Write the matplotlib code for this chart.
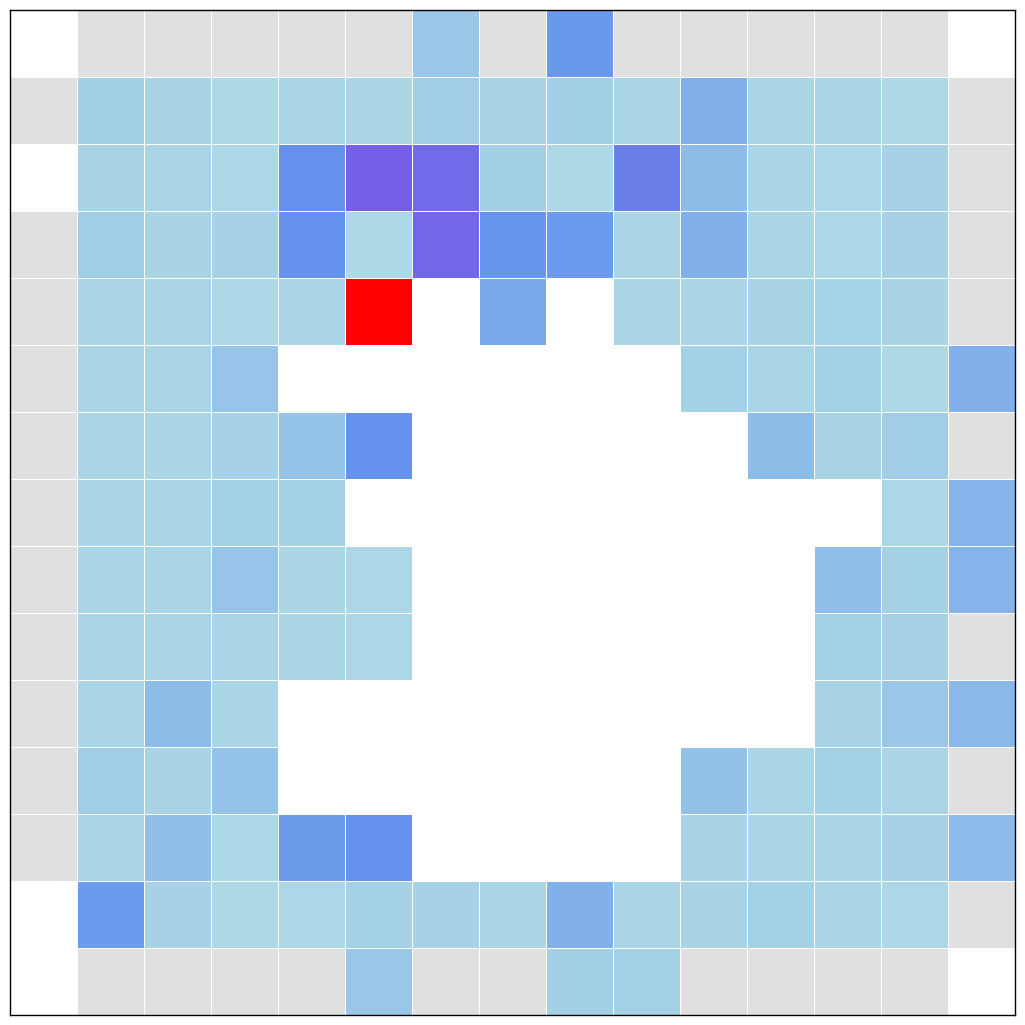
import numpy as np
import matplotlib
matplotlib.use("Agg")
import matplotlib.pyplot as plt
from matplotlib.colors import LinearSegmentedColormap

W = np.nan   # sem dado (branco)
G = -1.0     # borda (cinza)
R = 2.0      # valor maximo destacado (vermelho)

linhas = [
    [W, G, G, G, G, G, .16, G, .56, G, G, G, G, G, W],
    [G, .08, .04, .0, .03, .02, .10, .04, .08, .03, .36, .03, .02, .0, G],
    [W, .04, .03, .01, .63, 1.0, .90, .08, .0, .76, .25, .02, .01, .06, G],
    [G, .10, .04, .06, .63, .0, .93, .59, .55, .03, .36, .02, .01, .06, G],
    [G, .02, .03, .01, .03, R, W, .42, W, .02, .03, .04, .05, .04, G],
    [G, .03, .03, .18, W, W, W, W, W, W, .07, .03, .07, .0, .36],
    [G, .03, .02, .06, .19, .62, W, W, W, W, W, .25, .04, .10, G],
    [G, .02, .03, .07, .07, W, W, W, W, W, W, W, W, .01, .33],
    [G, .03, .02, .18, .02, .01, W, W, W, W, W, W, .24, .07, .33],
    [G, .03, .03, .03, .02, .01, W, W, W, W, W, W, .07, .06, G],
    [G, .03, .25, .02, W, W, W, W, W, W, W, W, .04, .16, .29],
    [G, .10, .04, .20, W, W, W, W, W, W, .21, .03, .07, .03, G],
    [G, .03, .22, .01, .54, .62, W, W, W, W, .04, .03, .02, .06, .26],
    [W, .55, .06, .0, .01, .07, .06, .03, .36, .03, .04, .07, .03, .01, G],
    [W, G, G, G, G, .16, G, G, .08, .07, G, G, G, G, W],
]

valores = np.ma.masked_invalid(np.array(linhas))

cmap = LinearSegmentedColormap.from_list(
    "azul", [(0.0, "#add8e6"), (0.6, "#6495ed"), (1.0, "#765ee8")])
cmap.set_under("#e0e0e0")
cmap.set_over("#ff0000")
cmap.set_bad("white")

fig = plt.figure(figsize=(10.25, 10.25), dpi=100)
ax = fig.add_axes([10 / 1025, 10 / 1025, 1005 / 1025, 1005 / 1025])
ax.pcolormesh(valores, cmap=cmap, vmin=0, vmax=1,
              edgecolors="white", linewidth=0.5)
ax.set_xlim(0, 15)
ax.set_ylim(15, 0)
ax.set_xticks([])
ax.set_yticks([])
for s in ax.spines.values():
    s.set_color("black")
    s.set_linewidth(1.0)

fig.savefig("out.png", dpi=100)
